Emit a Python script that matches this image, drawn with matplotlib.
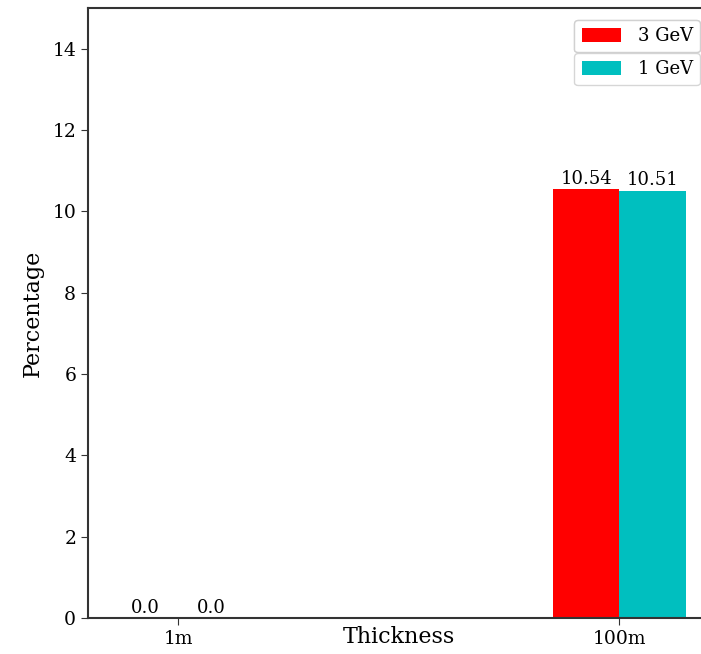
import matplotlib
matplotlib.use("Agg")
import matplotlib.pyplot as plt
import numpy as np

thickness = ["1m", "100m"]
pct_3gev  = [0.0, 10.54]
pct_1gev  = [0.0, 10.51]
series    = ["3 GeV", "1 GeV"]

plt.rcParams['font.family'] = 'DejaVu Serif'

fig = plt.figure(figsize = (7.01, 6.54), dpi = 100)
ax  = fig.add_axes([88 / 701, 36 / 654, 621.5 / 701, 610 / 654])

x     = np.arange(len(thickness))
width = 0.15

b1 = ax.bar(x - width / 2, pct_3gev, width, color = "#ff0000", label = series[0])
b2 = ax.bar(x + width / 2, pct_1gev, width, color = "#00bfbf", label = series[1])
ax.bar_label(b1, labels = [f"{v}" for v in pct_3gev], fontsize = 13, padding = 1)
ax.bar_label(b2, labels = [f"{v}" for v in pct_1gev], fontsize = 13, padding = 1)

ax.set_xlim(-0.204, 1.204)
ax.set_ylim(0, 15)
ax.set_xticks(x)
ax.set_xticklabels(thickness)
ax.set_yticks(np.arange(0, 15, 2))
ax.tick_params(labelsize = 13.5, color = "#333333", length = 5)

ax.set_xlabel("Thickness", fontsize = 16, labelpad = -16)
ax.set_ylabel("Percentage", fontsize = 16, labelpad = 6)

for side, spine in ax.spines.items():
    spine.set_color("#333333")
    spine.set_linewidth(1.5)
ax.spines["right"].set_visible(False)

# two separate legend boxes, stacked
legkw = dict(loc = "upper right", fontsize = 13, borderaxespad = 0, handlelength = 2.2,
             handleheight = 0.85, borderpad = 0.4, handletextpad = 0.9)
leg1 = fig.legend(handles = [b1], bbox_to_anchor = (700 / 701, 1 - 20 / 654), **legkw)
leg2 = fig.legend(handles = [b2], bbox_to_anchor = (700 / 701, 1 - 53 / 654), **legkw)
fig.add_artist(leg1)

fig.savefig("out.png", dpi = 100)
